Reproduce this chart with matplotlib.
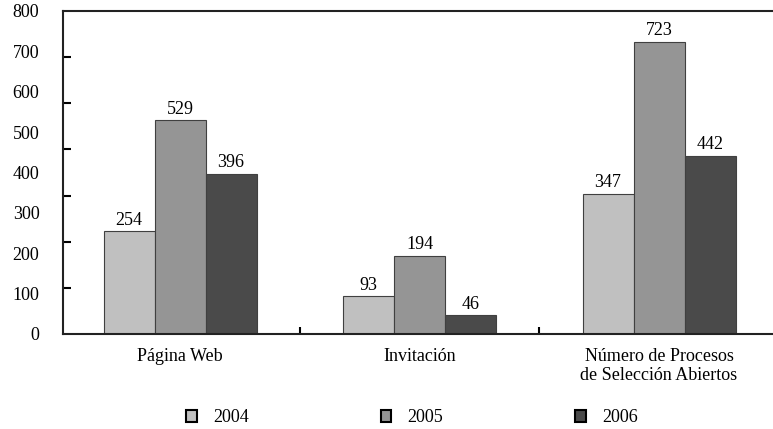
from matplotlib import pyplot as plt
from matplotlib.patches import Patch
import numpy as np

categories = ["Página Web", "Invitación", "Número de Procesos\nde Selección Abiertos"]
years = ["2004", "2005", "2006"]
values_2004 = [254, 93, 347]
values_2005 = [529, 194, 723]
values_2006 = [396, 46, 442]
y_ticks = [0, 100, 200, 300, 400, 500, 600, 700, 800]


def main():
    plt.rcParams['font.family'] = ['Liberation Serif', 'DejaVu Serif']
    colors = ["#c0c0c0", "#959595", "#4a4a4a"]
    series = [values_2004, values_2005, values_2006]
    fs = 13

    fig = plt.figure(figsize=(7.73, 4.29), dpi=100)
    ax = fig.add_axes([63 / 773, 95 / 429, 710 / 773, 323 / 429])

    x = np.arange(len(categories))
    width = 0.213
    for i, (vals, col) in enumerate(zip(series, colors)):
        bars = ax.bar(x + (i - 1) * width, vals, width, color=col,
                      edgecolor="#404040", linewidth=0.8)
        for b, v in zip(bars, vals):
            ax.annotate(str(v), xy=(b.get_x() + b.get_width() / 2, v),
                        xytext=(0, 2), textcoords="offset points",
                        ha="center", va="bottom", fontsize=fs)

    ax.set_xlim(-0.489, 2.476)
    ax.set_ylim(0, 800)

    # labelled ticks without marks, marks on their own spacing
    ax.set_yticks(y_ticks)
    ax.tick_params(axis="y", which="major", length=0, pad=17, labelsize=fs)
    ax.set_yticks([k * 800 / 7 for k in range(1, 7)], minor=True)
    ax.tick_params(axis="y", which="minor", direction="in", length=6, width=1.5)

    ax.set_xticks(x)
    ax.set_xticklabels(categories, linespacing=1.2)
    ax.tick_params(axis="x", which="major", length=0, pad=10, labelsize=fs)
    ax.set_xticks([0.5, 1.5], minor=True)
    ax.tick_params(axis="x", which="minor", direction="in", length=5, width=1.5)

    ax.spines["right"].set_visible(False)
    for s in ["left", "top", "bottom"]:
        ax.spines[s].set_linewidth(1.5)
        ax.spines[s].set_color("#222222")

    handles = [Patch(facecolor=c, edgecolor="black", linewidth=1.5) for c in colors]
    fig.legend(handles, years, loc="center", bbox_to_anchor=(412 / 773, 1 - 418 / 429),
               ncol=3, frameon=False, fontsize=fs, handlelength=0.6,
               handleheight=0.6, handletextpad=0.9, columnspacing=7.3)

    fig.savefig("out.png", dpi=100)


if __name__ == "__main__":
    main()
